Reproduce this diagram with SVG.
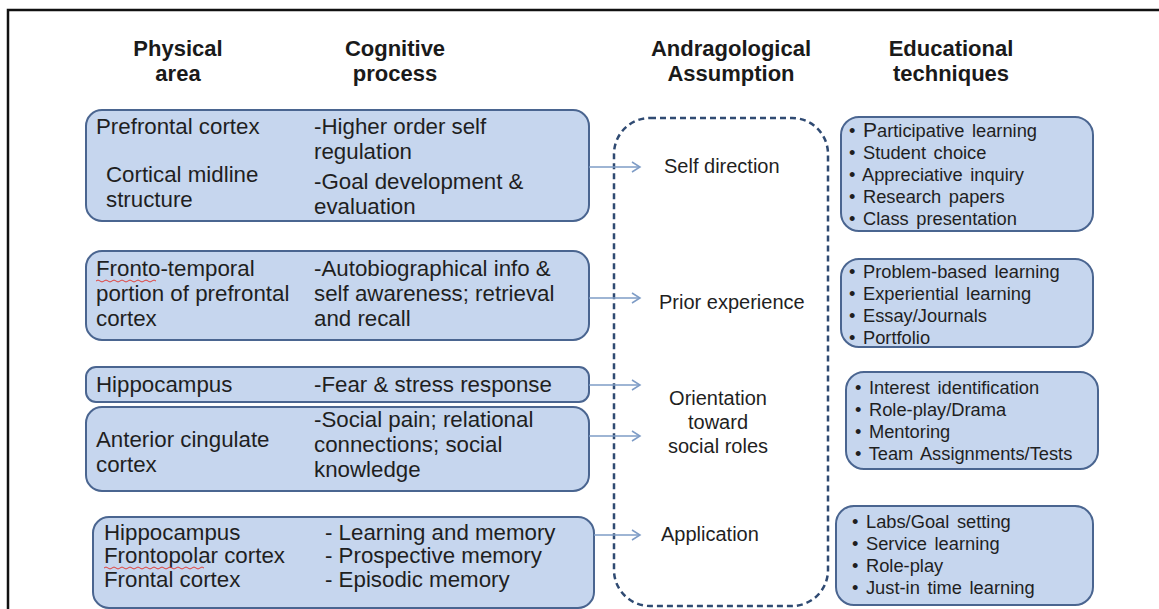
<svg xmlns="http://www.w3.org/2000/svg" width="1159" height="609" viewBox="0 0 1159 609">
<defs>
<style>
.hdr{font-family:"Liberation Sans Narrow","Liberation Sans",Arial,sans-serif;font-weight:bold;font-size:22px;fill:#1a1a1a;text-anchor:middle}
.t{font-family:"Liberation Sans",Arial,sans-serif;font-size:22.3px;fill:#1f1f1f}
.a{font-family:"Liberation Sans",Arial,sans-serif;font-size:20px;fill:#1f1f1f}
.b{font-family:"Liberation Sans",Arial,sans-serif;font-size:18.3px;fill:#1f1f1f;word-spacing:2.5px}
.box{fill:#C6D6EE;stroke:#4A6590;stroke-width:2}
.conn{stroke:#7E9CC6;stroke-width:1.5;fill:none}
.sq{stroke:#E0403A;stroke-width:1;fill:none}
</style>
<marker id="arr" markerWidth="12" markerHeight="12" refX="10" refY="6" orient="auto" markerUnits="userSpaceOnUse">
<path d="M2,1 L10,6 L2,11" fill="none" stroke="#7E9CC6" stroke-width="1.5"/>
</marker>
</defs>
<rect x="0" y="0" width="1159" height="609" fill="#ffffff"/>
<path d="M8,612 L8,10 L1162,10" fill="none" stroke="#111" stroke-width="2.5"/>

<g id="headers">
<text class="hdr" x="178" y="56">Physical</text>
<text class="hdr" x="178" y="81">area</text>
<text class="hdr" x="395" y="56">Cognitive</text>
<text class="hdr" x="395" y="81">process</text>
<text class="hdr" x="731" y="56">Andragological</text>
<text class="hdr" x="731" y="81">Assumption</text>
<text class="hdr" x="951" y="56">Educational</text>
<text class="hdr" x="951" y="81">techniques</text>
</g>

<g id="assumption-frame">
<rect x="614" y="118" width="214" height="488" rx="36" ry="36" fill="none" stroke="#2F4A72" stroke-width="2.5" stroke-dasharray="6 4"/>
</g>

<g id="phys1">
<rect class="box" x="86" y="110" width="503" height="111" rx="16"/>
<text class="t" x="96" y="134">Prefrontal cortex</text>
<text class="t" x="106" y="182">Cortical midline</text>
<text class="t" x="106" y="207">structure</text>
<text class="t" x="314" y="134">-Higher order self</text>
<text class="t" x="314" y="159">regulation</text>
<text class="t" x="314" y="189">-Goal development &amp;</text>
<text class="t" x="314" y="214">evaluation</text>
</g>

<g id="phys2">
<rect class="box" x="86" y="251" width="503" height="89" rx="16"/>
<text class="t" x="96" y="276">Fronto-temporal</text>
<text class="t" x="96" y="301">portion of prefrontal</text>
<text class="t" x="96" y="326">cortex</text>
<path class="sq" d="M96,281 q2,-2 4,0 t4,0 t4,0 t4,0 t4,0 t4,0 t4,0 t4,0 t4,0 t4,0 t4,0 t4,0 t4,0 t4,0 t4,0"/>
<text class="t" x="314" y="276">-Autobiographical info &amp;</text>
<text class="t" x="314" y="301">self awareness; retrieval</text>
<text class="t" x="314" y="326">and recall</text>
</g>

<g id="phys3">
<rect class="box" x="86" y="367" width="503" height="35" rx="10"/>
<text class="t" x="96" y="392">Hippocampus</text>
<text class="t" x="314" y="392">-Fear &amp; stress response</text>
</g>

<g id="phys4">
<rect class="box" x="86" y="407" width="503" height="84" rx="16"/>
<text class="t" x="96" y="447">Anterior cingulate</text>
<text class="t" x="96" y="472">cortex</text>
<text class="t" x="314" y="427">-Social pain; relational</text>
<text class="t" x="314" y="452">connections; social</text>
<text class="t" x="314" y="477">knowledge</text>
</g>

<g id="phys5">
<rect class="box" x="93" y="517" width="501" height="91" rx="16"/>
<text class="t" x="104" y="540">Hippocampus</text>
<text class="t" x="104" y="563">Frontopolar cortex</text>
<text class="t" x="104" y="587">Frontal cortex</text>
<path class="sq" d="M104,568 q2,-2 4,0 t4,0 t4,0 t4,0 t4,0 t4,0 t4,0 t4,0 t4,0 t4,0 t4,0 t4,0 t4,0 t4,0 t4,0 t4,0 t4,0 t4,0 t4,0 t4,0 t4,0 t4,0 t4,0 t4,0 t4,0"/>
<text class="t" x="325" y="540">- Learning and memory</text>
<text class="t" x="325" y="563">- Prospective memory</text>
<text class="t" x="325" y="587">- Episodic memory</text>
</g>

<g id="assumptions">
<text class="a" x="664" y="173">Self direction</text>
<text class="a" x="659" y="309">Prior experience</text>
<text class="a" x="718" y="405" text-anchor="middle">Orientation</text>
<text class="a" x="718" y="429" text-anchor="middle">toward</text>
<text class="a" x="718" y="453" text-anchor="middle">social roles</text>
<text class="a" x="661" y="541">Application</text>
</g>

<g id="tech1">
<rect class="box" x="841" y="117" width="252" height="114" rx="18"/>
<text class="b" x="849" y="137">• <tspan font-size="21px">P</tspan>articipative learning</text>
<text class="b" x="849" y="159">• Student choice</text>
<text class="b" x="849" y="181">• Appreciative inquiry</text>
<text class="b" x="849" y="203">• Research papers</text>
<text class="b" x="849" y="225">• Class presentation</text>
</g>

<g id="tech2">
<rect class="box" x="841" y="259" width="252" height="88" rx="18"/>
<text class="b" x="849" y="278">• Problem-based learning</text>
<text class="b" x="849" y="300">• Experiential learning</text>
<text class="b" x="849" y="322">• Essay/Journals</text>
<text class="b" x="849" y="344">• Portfolio</text>
</g>

<g id="tech3">
<rect class="box" x="846" y="372" width="252" height="97" rx="18"/>
<text class="b" x="855" y="394">• Interest identification</text>
<text class="b" x="855" y="416">• Role-play/Drama</text>
<text class="b" x="855" y="438">• Mentoring</text>
<text class="b" x="855" y="460">• Team Assignments/Tests</text>
</g>

<g id="tech4">
<rect class="box" x="836" y="506" width="257" height="99" rx="18"/>
<text class="b" x="852" y="528">• Labs/Goal setting</text>
<text class="b" x="852" y="550">• Service learning</text>
<text class="b" x="852" y="572">• Role-play</text>
<text class="b" x="852" y="594">• Just-in time learning</text>
</g>

<g id="connectors">
<line class="conn" x1="589" y1="167" x2="640" y2="167" marker-end="url(#arr)"/>
<line class="conn" x1="589" y1="298" x2="640" y2="298" marker-end="url(#arr)"/>
<line class="conn" x1="589" y1="385" x2="640" y2="385" marker-end="url(#arr)"/>
<line class="conn" x1="589" y1="436" x2="640" y2="436" marker-end="url(#arr)"/>
<line class="conn" x1="594" y1="535" x2="640" y2="535" marker-end="url(#arr)"/>
</g>
</svg>
